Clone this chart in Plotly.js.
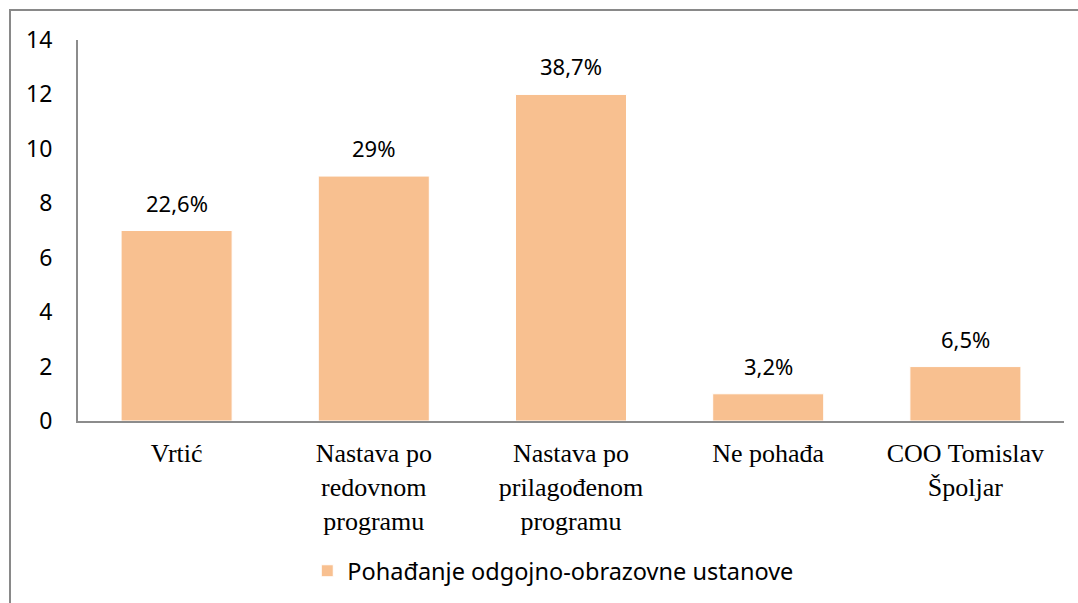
<!DOCTYPE html>
<html>
<head>
<meta charset="utf-8">
<script src="https://cdn.plot.ly/plotly-3.0.1.min.js"></script>
<style>
  html, body { margin: 0; padding: 0; background: #fff; }
  #wrap { position: relative; width: 1078px; height: 603px; }
  #chart { width: 1078px; height: 603px; }
  #frame { position: absolute; left: 9px; top: 9px; width: 1069px; height: 594px;
           border-top: 2px solid #898989; border-left: 2px solid #898989; box-sizing: border-box; pointer-events: none; }
</style>
</head>
<body>
<div id="wrap">
  <div id="chart"></div>
  <div id="frame"></div>
</div>
<script>
const categories = ["Vrtić", "Nastava po<br>redovnom<br>programu", "Nastava po<br>prilagođenom<br>programu", "Ne pohađa", "COO Tomislav<br>Špoljar"];
const values = [7, 9, 12, 1, 2];
const percentLabels = ["22,6%", "29%", "38,7%", "3,2%", "6,5%"];
const seriesName = "Pohađanje odgojno-obrazovne ustanove";
const yTicks = [0, 2, 4, 6, 8, 10, 12, 14];

const sans = "Noto Sans, Open Sans, sans-serif";
const serif = "Liberation Serif, Times New Roman, serif";

const trace = {
  type: "bar",
  x: categories,
  y: values,
  name: seriesName,
  marker: { color: "#F8C090", line: { color: "#ffffff", width: 1 } },
  hoverinfo: "skip",
  showlegend: true
};

const annotations = categories.map((c, i) => ({
  x: c, y: values[i], xref: "x", yref: "y",
  text: percentLabels[i], showarrow: false,
  yanchor: "bottom", yshift: 11,
  font: { family: sans, size: 22, color: "#000" }
}));

const layout = {
  width: 1078, height: 603,
  margin: { l: 78, r: 14, t: 40, b: 181 },
  paper_bgcolor: "#fff", plot_bgcolor: "#fff",
  bargap: 0.437,
  showlegend: true,
  legend: {
    orientation: "h", x: 0.482, xanchor: "center", y: -0.39, yanchor: "middle",
    bgcolor: "rgba(0,0,0,0)",
    font: { family: sans, size: 23.5, color: "#000" },
    itemwidth: 30
  },
  xaxis: {
    type: "category",
    showline: true, linecolor: "#8c8c8c", linewidth: 2,
    ticks: "", showgrid: false, zeroline: false,
    tickfont: { family: serif, size: 26, color: "#000" },
    ticklabelstandoff: 8
  },
  yaxis: {
    range: [0, 14], tickvals: yTicks,
    showline: true, linecolor: "#8c8c8c", linewidth: 2,
    ticks: "", showgrid: false, zeroline: false,
    tickfont: { family: sans, size: 23, color: "#000" },
    ticklabelstandoff: 19
  },
  annotations: annotations
};

Plotly.newPlot("chart", [trace], layout, { displayModeBar: false, staticPlot: true });
</script>
</body>
</html>
